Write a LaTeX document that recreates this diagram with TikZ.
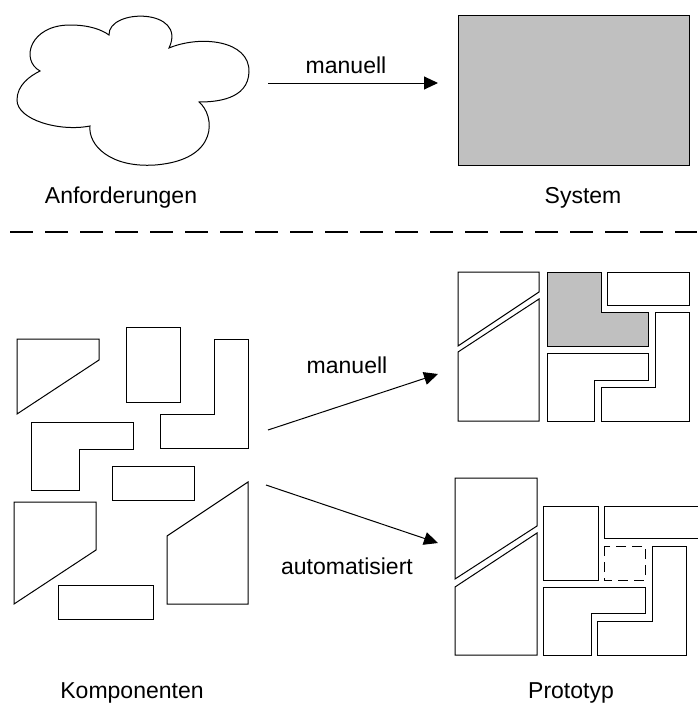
\documentclass[tikz,border=0pt]{standalone}
\usepackage{fontspec}
\setmainfont{Liberation Sans}
\usetikzlibrary{arrows.meta}
\definecolor{silver}{HTML}{C0C0C0}
\begin{document}
\begin{tikzpicture}[x=1pt,y=-1pt,
  part/.style={draw=black,line width=1pt,line join=miter},
  shaded/.style={part,fill=silver},
  flow/.style={draw=black,line width=1pt,-{Triangle[length=14pt,width=13pt]}},
  lbl/.style={font=\fontsize{23}{28}\selectfont,inner sep=0pt,anchor=base}]
\useasboundingbox (0,0) rectangle (697,704);

% --- requirements cloud ---
\draw[part] (109,35) .. controls (108,8) and (188,8) .. (169,48)
  .. controls (200,35) and (250,40) .. (249,72)
  .. controls (248,100) and (215,102) .. (199,102)
  .. controls (215,115) and (220,160) .. (155,165)
  .. controls (110,168) and (88,145) .. (90,126)
  .. controls (60,132) and (17,120) .. (17,100)
  .. controls (17,85) and (30,76) .. (40,71)
  .. controls (20,60) and (30,25) .. (70,25)
  .. controls (90,25) and (102,30) .. cycle;

% --- finished system ---
\draw[shaded] (458,15) rectangle (689,165);

\coordinate (a1s) at (268,83);
\coordinate (a1e) at (438,83);
\draw[flow] (a1s) -- (a1e);

\node[lbl] (m1) at (346,73) {manuell};
\node[lbl] (req) at (121,203) {Anforderungen};
\node[lbl] (sys) at (583,203) {System};

% --- separator ---
\coordinate (sepL) at (10,232);
\coordinate (sepR) at (697,232);
\draw[line width=2pt,dash pattern=on 23pt off 12pt] (sepL) -- (sepR);

% --- loose components ---
\draw[part] (17,339) -- (99,339) -- (99,360) -- (17,414) -- cycle;
\draw[part] (126,327) rectangle (180,402);
\draw[part] (214,339) -- (248,339) -- (248,448) -- (160,448) -- (160,414) -- (214,414) -- cycle;
\draw[part] (31,422) -- (133,422) -- (133,449) -- (79,449) -- (79,490) -- (31,490) -- cycle;
\draw[part] (112,466) rectangle (194,500);
\draw[part] (14,502) -- (96,502) -- (96,550) -- (14,604) -- cycle;
\draw[part] (58,585) rectangle (153,619);
\draw[part] (167,536) -- (248,482) -- (248,604) -- (167,604) -- cycle;

% --- manually assembled prototype ---
\draw[part] (458,272) -- (539,272) -- (539,292) -- (458,346) -- cycle;
\draw[part] (458,352) -- (539,299) -- (539,421) -- (458,421) -- cycle;
\draw[shaded] (547,272) -- (601,272) -- (601,312) -- (648,312) -- (648,346) -- (547,346) -- cycle;
\draw[part] (607,272) rectangle (689,305);
\draw[part] (655,312) -- (689,312) -- (689,421) -- (601,421) -- (601,387) -- (655,387) -- cycle;
\draw[part] (547,353) -- (648,353) -- (648,380) -- (594,380) -- (594,421) -- (547,421) -- cycle;

% --- automatically assembled prototype ---
\draw[part] (455,478) -- (537,478) -- (537,526) -- (455,579) -- cycle;
\draw[part] (455,587) -- (537,533) -- (537,655) -- (455,655) -- cycle;
\draw[part] (543,506) rectangle (598,580);
\draw[part] (704,506) -- (604,506) -- (604,538) -- (704,538);
\draw[part,dash pattern=on 10pt off 6pt] (604,546) rectangle (645,580);
\draw[part] (652,546) -- (686,546) -- (686,655) -- (597,655) -- (597,621) -- (652,621) -- cycle;
\draw[part] (543,587) -- (645,587) -- (645,613) -- (591,613) -- (591,655) -- (543,655) -- cycle;

% --- assembly arrows ---
\coordinate (a2s) at (268,430);
\coordinate (a2e) at (438,374);
\coordinate (a3s) at (266,485);
\coordinate (a3e) at (438,543);
\draw[flow] (a2s) -- (a2e);
\draw[flow] (a3s) -- (a3e);

\node[lbl] (m2) at (347,373) {manuell};
\node[lbl] (auto) at (347,574) {automatisiert};
\node[lbl] (komp) at (132,698) {Komponenten};
\node[lbl] (proto) at (571,698) {Prototyp};
\end{tikzpicture}
\end{document}
